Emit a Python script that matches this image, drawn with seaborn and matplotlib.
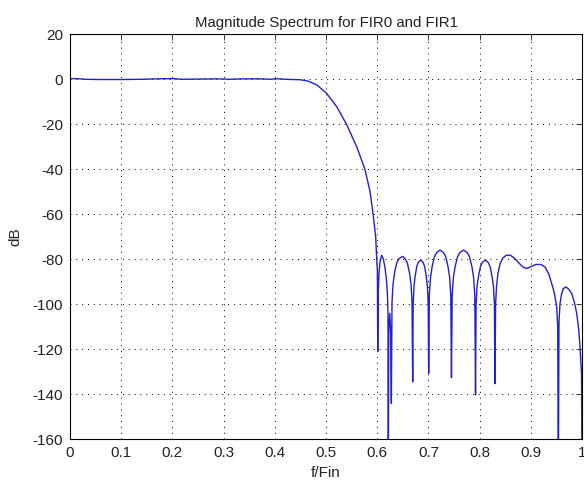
import matplotlib
matplotlib.use("Agg")
import matplotlib.pyplot as plt
import seaborn as sns
import pandas as pd

# Normalised frequency (f/Fin) and magnitude (dB)
freq = [
    0.000, 0.010, 0.020, 0.030, 0.060, 0.100, 0.140, 0.170, 0.200, 0.220,
    0.260, 0.290, 0.310, 0.340, 0.370, 0.390, 0.400, 0.410, 0.420, 0.450,
    0.465, 0.482, 0.501, 0.521, 0.540, 0.560, 0.576, 0.586, 0.592, 0.597,
    0.599, 0.6003, 0.6010,
    0.6020, 0.6035, 0.6055, 0.6087, 0.6120, 0.6150, 0.6180, 0.6200, 0.6210, 0.6217,
    0.6225, 0.6245, 0.6262, 0.6276,
    0.6289, 0.6309, 0.6339, 0.6380, 0.6422, 0.6495, 0.6547, 0.6589, 0.6630, 0.6660, 0.6680, 0.6693,
    0.6702, 0.6718, 0.6740, 0.6771, 0.6802, 0.6849, 0.6896, 0.6927, 0.6958, 0.6980, 0.6996, 0.7005,
    0.7018, 0.7041, 0.7072, 0.7116, 0.7161, 0.7228, 0.7294, 0.7339, 0.7383, 0.7414, 0.7437, 0.7450,
    0.7464, 0.7488, 0.7521, 0.7568, 0.7615, 0.7685, 0.7756, 0.7803, 0.7850, 0.7882, 0.7906, 0.7920,
    0.7931, 0.7950, 0.7977, 0.8015, 0.8053, 0.8110, 0.8167, 0.8205, 0.8243, 0.8270, 0.8289, 0.8300,
    0.8312, 0.8330, 0.8360, 0.8400, 0.8450, 0.8520, 0.8600, 0.8680, 0.8760, 0.8850,
    0.8920, 0.9000, 0.9100, 0.9200, 0.9280, 0.9350, 0.9408, 0.9460, 0.9505, 0.9525, 0.9538,
    0.9550, 0.9570, 0.9600, 0.9635, 0.9688, 0.9740, 0.9800, 0.9850, 0.9896, 0.9935,
    0.9961, 0.9990, 1.0000,
]
mag_db = [
    0.3, 0.3, 0.2, 0.0, -0.1, -0.1, 0.0, 0.2, 0.3, 0.0,
    0.1, 0.2, 0.0, 0.2, 0.2, 0.0, 0.2, 0.2, 0.0, -0.2,
    -0.8, -2.5, -6.2, -12.2, -20.0, -30.0, -40.0, -50.0, -60.0, -70.0,
    -80.0, -85.0, -121.0,
    -95.0, -86.0, -81.0, -78.2, -80.0, -83.5, -89.0, -96.0, -104.0, -175.0,
    -112.0, -104.0, -112.0, -144.0,
    -99.0, -91.0, -86.0, -81.7, -79.8, -78.7, -79.8, -81.7, -86.0, -91.0, -99.0, -134.5,
    -100.0, -92.0, -87.7, -83.3, -81.4, -80.3, -81.4, -83.3, -87.7, -92.0, -100.0, -130.7,
    -96.0, -88.0, -83.3, -78.9, -77.0, -75.9, -77.0, -78.9, -83.3, -88.0, -96.0, -132.6,
    -96.0, -88.0, -83.3, -78.9, -77.0, -75.9, -77.0, -78.9, -83.3, -88.0, -96.0, -140.3,
    -100.0, -92.0, -87.7, -83.3, -81.4, -80.3, -81.4, -83.3, -87.7, -92.0, -100.0, -135.3,
    -100.0, -92.0, -86.0, -82.0, -79.5, -78.2, -78.2, -79.5, -81.5, -83.5,
    -84.1, -83.3, -82.3, -82.3, -83.5, -86.5, -90.8, -95.0, -101.0, -110.0, -175.0,
    -108.0, -99.7, -95.5, -93.0, -92.3, -93.3, -95.3, -99.0, -104.0, -111.0,
    -119.0, -130.8, -175.0,
]

x_ticks = [0, 0.1, 0.2, 0.3, 0.4, 0.5, 0.6, 0.7, 0.8, 0.9, 1]
x_tick_labels = ["0", "0.1", "0.2", "0.3", "0.4", "0.5", "0.6", "0.7", "0.8", "0.9", "1"]
y_ticks = [-160, -140, -120, -100, -80, -60, -40, -20, 0, 20]

df = pd.DataFrame({"f": freq, "dB": mag_db})

sns.set_style("white")
plt.rcParams["font.family"] = ["Liberation Sans", "DejaVu Sans"]
plt.rcParams["axes.unicode_minus"] = False

fig = plt.figure(figsize=(5.84, 4.83), dpi=100)
ax = fig.add_axes([0.1199, 0.0905, 0.8767, 0.8385])

sns.lineplot(data=df, x="f", y="dB", ax=ax, sort=False, estimator=None,
             color="#2020d0", linewidth=1.0)

ax.set_xlim(0, 1)
ax.set_ylim(-160, 20)
ax.set_xticks(x_ticks)
ax.set_xticklabels(x_tick_labels)
ax.set_yticks(y_ticks)
ax.grid(True, color="black", linestyle=(0, (1, 5)), linewidth=0.7)
ax.tick_params(direction="in", top=True, right=True, length=4, width=0.6,
               labelsize=11, colors="#222222", pad=5)
for s in ax.spines.values():
    s.set_color("black")
    s.set_linewidth(0.8)

ax.set_title("Magnitude Spectrum for FIR0 and FIR1", fontsize=10.8, pad=5,
             color="#222222")
ax.set_xlabel("f/Fin", fontsize=11, labelpad=4, color="#222222")
ax.set_ylabel("dB", fontsize=11, labelpad=7, color="#222222")

fig.savefig("out.png", dpi=100)
